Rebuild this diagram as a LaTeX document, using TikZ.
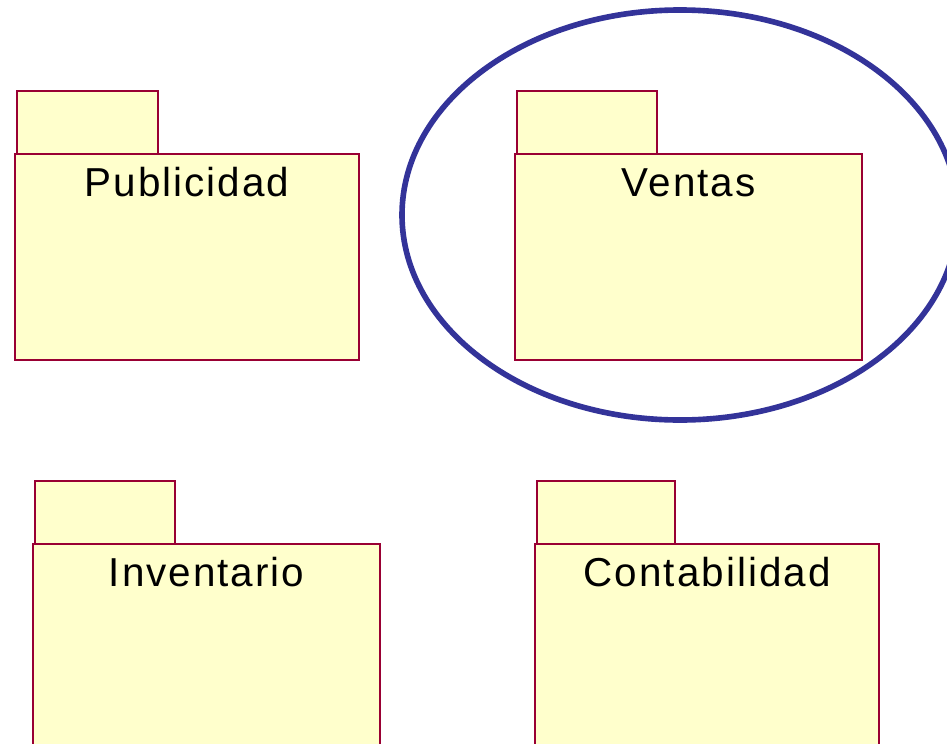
\documentclass[tikz,border=0pt]{standalone}
\usepackage{fontspec}
\setmainfont{Liberation Sans}[LetterSpace=5]
\usetikzlibrary{positioning}

\definecolor{pkgred}{RGB}{153,0,51}
\definecolor{pkgfill}{RGB}{255,255,204}
\definecolor{ringblue}{RGB}{51,51,153}

\tikzset{
  pkg/.style={draw=pkgred, fill=pkgfill, line width=1.3pt, anchor=north west,
    inner sep=0pt, minimum width=#1*0.02cm},
  pkg/.default=344,
  pkgtab/.style={pkg=141, minimum height=1.26cm},
  pkgbody/.style={pkg=#1, minimum height=4.12cm},
  pkgname/.style={anchor=base, font=\fontsize{23}{27}\selectfont, inner sep=0pt}
}

\begin{document}
\begin{tikzpicture}[x=0.02cm, y=-0.02cm]
    \useasboundingbox (0,0) rectangle (947,744);
    \clip (0,0) rectangle (947,744);

    % Publicidad
    \node [pkgtab] (pubtab) at (16,90) {};
    \node [pkgbody=344] (pub) at (14,153) {};
    \node [pkgname] (pubname) at ([yshift=-0.88cm]pub.north) {Publicidad};

    % Ventas
    \node [pkgtab, minimum width=2.8cm] (ventab) at (516,90) {};
    \node [pkgbody=347] (ven) at (514,153) {};
    \node [pkgname] (venname) at ([yshift=-0.88cm]ven.north) {Ventas};

    % Inventario
    \node [pkgtab, minimum width=2.8cm] (invtab) at (34,480) {};
    \node [pkgbody=347] (inv) at (32,543) {};
    \node [pkgname] (invname) at ([yshift=-0.88cm]inv.north) {Inventario};

    % Contabilidad
    \node [pkgtab, minimum width=2.76cm] (contab) at (536,480) {};
    \node [pkgbody=344] (con) at (534,543) {};
    \node [pkgname] (conname) at ([yshift=-0.88cm]con.north) {Contabilidad};

    % marca sobre Ventas
    \draw [color = ringblue, line width = 3.2pt] (680,215) ellipse [x radius=278, y radius=205];
\end{tikzpicture}
\end{document}
